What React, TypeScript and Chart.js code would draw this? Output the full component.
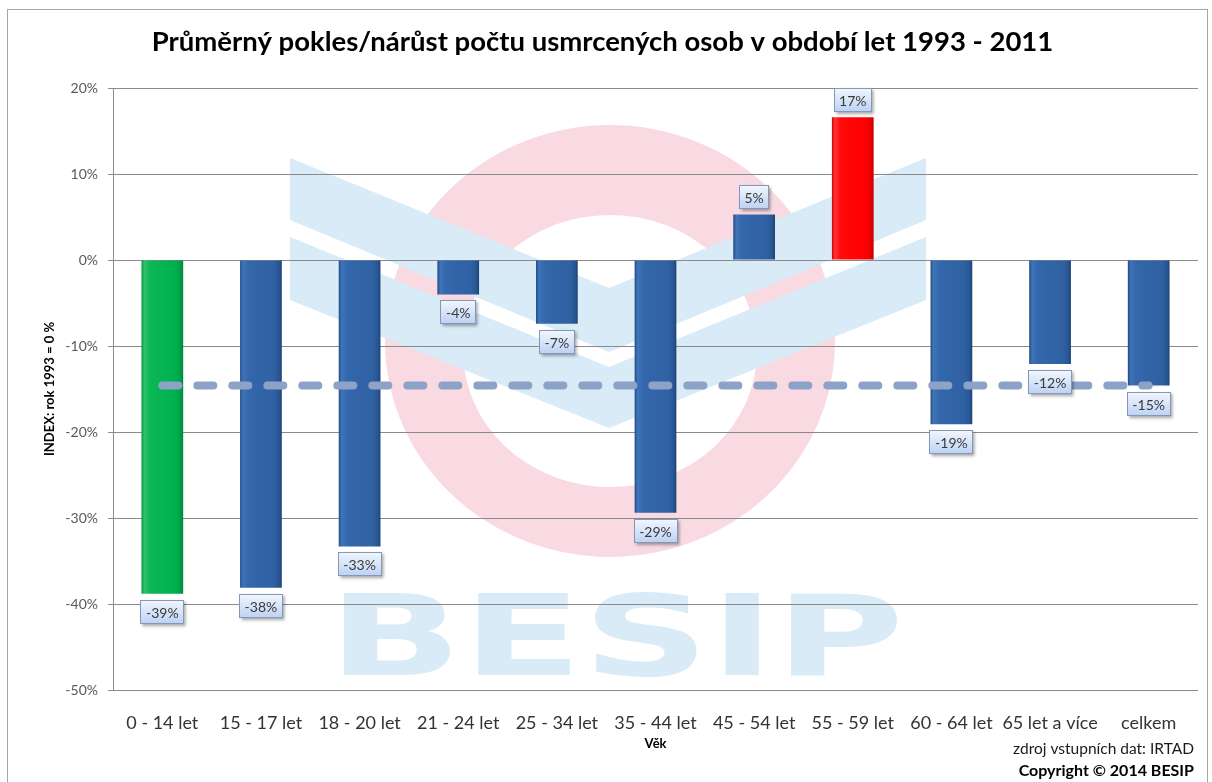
import React, { useEffect, useRef } from 'react';
import { Chart, registerables } from 'chart.js';

Chart.register(...registerables);

// ---------- data ----------
const CATEGORIES = [
  '0 - 14 let',
  '15 - 17 let',
  '18 - 20 let',
  '21 - 24 let',
  '25 - 34 let',
  '35 - 44 let',
  '45 - 54 let',
  '55 - 59 let',
  '60 - 64 let',
  '65 let a více',
  'celkem',
];
const CHANGE_PCT = [-38.8, -38.1, -33.3, -4.0, -7.4, -29.4, 5.3, 16.6, -19.1, -12.1, -14.6];
const AVERAGE_PCT = [-14.6, -14.6, -14.6, -14.6, -14.6, -14.6, -14.6, -14.6, -14.6, -14.6, -14.6];
const BAR_KIND = ['green', 'blue', 'blue', 'blue', 'blue', 'blue', 'blue', 'red', 'blue', 'blue', 'blue'];
const Y_MIN = -50;
const Y_MAX = 20;
const Y_STEP = 10;

const TITLE = 'Průměrný pokles/nárůst počtu usmrcených osob v období let 1993 - 2011';
const Y_TITLE = 'INDEX: rok 1993 = 0 %';
const X_TITLE = 'Věk';
const SOURCE_TEXT = 'zdroj vstupních dat: IRTAD';
const COPYRIGHT_TEXT = 'Copyright © 2014 BESIP';

// ---------- styles ----------
const FONT = 'Lato, "Open Sans", sans-serif';
const CAT_PCT = 0.47;
const BAR_PCT = 0.9;
const STOPS = [0, 0.07, 0.2, 0.8, 0.93, 1];
const PALETTE: Record<string, string[]> = {
  blue: ['#214a84', '#3f74ba', '#3467ab', '#2f61a3', '#295795', '#1d4273'],
  green: ['#00983f', '#30c36a', '#0cb755', '#00b050', '#00a247', '#00853a'],
  red: ['#d00000', '#ff3434', '#ff0a0a', '#ff0000', '#e80000', '#c40000'],
};

const watermarkPlugin = {
  id: 'watermark',
  beforeDraw(chart: any) {
    const ctx = chart.ctx;
    ctx.save();
    // outer frame
    ctx.strokeStyle = '#a6a6a6';
    ctx.lineWidth = 1;
    ctx.strokeRect(7.5, 9.5, 1200, 800);

    // pink ring
    ctx.fillStyle = '#f9dae2';
    ctx.beginPath();
    ctx.ellipse(610, 341, 225, 216, 0, 0, Math.PI * 2);
    ctx.ellipse(610, 351, 147, 136, 0, 0, Math.PI * 2);
    ctx.fill('evenodd');

    // blue chevrons
    ctx.fillStyle = '#d8ebf6';
    const chev = (t: number, b: number, at: number, ab: number) => {
      ctx.beginPath();
      ctx.moveTo(290, t);
      ctx.lineTo(609, at);
      ctx.lineTo(926, t);
      ctx.lineTo(926, b);
      ctx.lineTo(609, ab);
      ctx.lineTo(290, b);
      ctx.closePath();
      ctx.fill();
    };
    chev(158, 220, 288, 352);
    chev(237, 300, 367, 428);

    // BESIP lettering
    ctx.font = 'bold 100px "DejaVu Sans"';
    ctx.textBaseline = 'alphabetic';
    ctx.textAlign = 'left';
    const w = ctx.measureText('BESIP').width;
    ctx.translate(328, 675);
    ctx.scale(576 / w, 82 / 73);
    ctx.fillText('BESIP', 0, 0);
    ctx.restore();
  },
};

const labelsPlugin = {
  id: 'valueBoxes',
  afterDatasetsDraw(chart: any) {
    const meta = chart.getDatasetMeta(0);
    const ctx = chart.ctx;
    ctx.save();
    ctx.font = '14px ' + FONT;
    meta.data.forEach((el: any, i: number) => {
      const v = CHANGE_PCT[i];
      const text = Math.round(v) + '%';
      const tw = ctx.measureText(text).width;
      const w = Math.round(tw + 11);
      const h = 24;
      const x = Math.round(el.x - w / 2);
      const y = Math.round(v < 0 ? el.y + 6 : el.y - 5 - h);
      const g = ctx.createLinearGradient(0, y, 0, y + h);
      g.addColorStop(0, '#f3f7ff');
      g.addColorStop(1, '#bcd1f3');
      ctx.shadowColor = 'rgba(0,0,0,0.35)';
      ctx.shadowBlur = 3;
      ctx.shadowOffsetX = 1.5;
      ctx.shadowOffsetY = 2;
      ctx.fillStyle = g;
      ctx.fillRect(x, y, w, h);
      ctx.shadowColor = 'rgba(0,0,0,0)';
      ctx.strokeStyle = '#8597b6';
      ctx.lineWidth = 1;
      ctx.strokeRect(x + 0.5, y + 0.5, w - 1, h - 1);
      ctx.fillStyle = '#3a3a3a';
      ctx.textAlign = 'center';
      ctx.textBaseline = 'middle';
      ctx.fillText(text, el.x, y + h / 2 + 1);
    });
    ctx.restore();
  },
};

const footerPlugin = {
  id: 'footer',
  afterDraw(chart: any) {
    const ctx = chart.ctx;
    ctx.save();
    ctx.textAlign = 'right';
    ctx.textBaseline = 'middle';
    ctx.fillStyle = '#1a1a1a';
    ctx.font = '15.5px ' + FONT;
    ctx.fillText(SOURCE_TEXT, 1194, 749);
    ctx.font = 'bold 16px ' + FONT;
    ctx.fillStyle = '#000';
    ctx.fillText(COPYRIGHT_TEXT, 1194, 771);
    ctx.restore();
  },
};

function barGradient(c: any) {
  const cols = PALETTE[BAR_KIND[c.dataIndex]] || PALETTE.blue;
  const xs = c.chart.scales && c.chart.scales.x;
  if (!xs || c.dataIndex == null || !xs.width) return cols[3];
  const cx = xs.getPixelForValue(c.dataIndex);
  const half = ((xs.width / CATEGORIES.length) * CAT_PCT * BAR_PCT) / 2;
  const g = c.chart.ctx.createLinearGradient(cx - half, 0, cx + half, 0);
  STOPS.forEach((s, i) => g.addColorStop(s, cols[i]));
  return g;
}

export default function App() {
  const ref = useRef<HTMLCanvasElement>(null);

  useEffect(() => {
    if (!ref.current) return;
    const chart = new Chart(ref.current, {
      type: 'bar',
      data: {
        labels: CATEGORIES,
        datasets: [
          {
            type: 'bar',
            label: 'Index',
            data: CHANGE_PCT,
            backgroundColor: barGradient,
            borderWidth: 0,
            categoryPercentage: CAT_PCT,
            barPercentage: BAR_PCT,
            order: 2,
          } as any,
          {
            type: 'line',
            label: 'Průměr',
            data: AVERAGE_PCT,
            borderColor: '#8da2c7',
            borderWidth: 8,
            borderDash: [16, 19],
            borderCapStyle: 'round',
            pointRadius: 0,
            fill: false,
            order: 1,
          } as any,
        ],
      },
      options: {
        responsive: false,
        animation: false,
        layout: { padding: { left: 7, right: 14, top: 0, bottom: 30 } },
        plugins: {
          legend: { display: false },
          tooltip: { enabled: false },
          title: {
            display: true,
            text: TITLE,
            color: '#000',
            font: { family: FONT, size: 27.5, weight: 'bold' },
            padding: { top: 26, bottom: 29 },
          },
        },
        scales: {
          x: {
            grid: { display: false },
            border: { display: false },
            ticks: {
              color: '#333',
              font: { family: FONT, size: 18 },
              padding: 14,
              maxRotation: 0,
              autoSkip: false,
            },
            title: {
              display: true,
              text: X_TITLE,
              color: '#000',
              font: { family: FONT, size: 13, weight: 'bold' },
              padding: { top: 0, bottom: 0 },
            },
            afterFit: (s: any) => {
              s.height = 62;
            },
          },
          y: {
            min: Y_MIN,
            max: Y_MAX,
            ticks: {
              stepSize: Y_STEP,
              color: '#595959',
              font: { family: FONT, size: 14 },
              padding: 10,
              callback: (v: any) => v + '%',
            },
            grid: { color: '#8a8a8a', tickLength: 5, lineWidth: 1 },
            border: { display: true, color: '#8a8a8a' },
            title: {
              display: true,
              text: Y_TITLE,
              color: '#000',
              font: { family: FONT, size: 13, weight: 'bold' },
              padding: { top: 35, bottom: 0 },
            },
            afterFit: (s: any) => {
              s.width = 106;
            },
          },
        },
      },
      plugins: [watermarkPlugin, labelsPlugin, footerPlugin],
    });
    return () => chart.destroy();
  }, []);

  return (
    <div style={{ position: 'fixed', left: 0, top: 0, width: 1212, height: 782, background: '#fff' }}>
      <canvas ref={ref} width={1212} height={782} style={{ width: 1212, height: 782, display: 'block' }} />
    </div>
  );
}
